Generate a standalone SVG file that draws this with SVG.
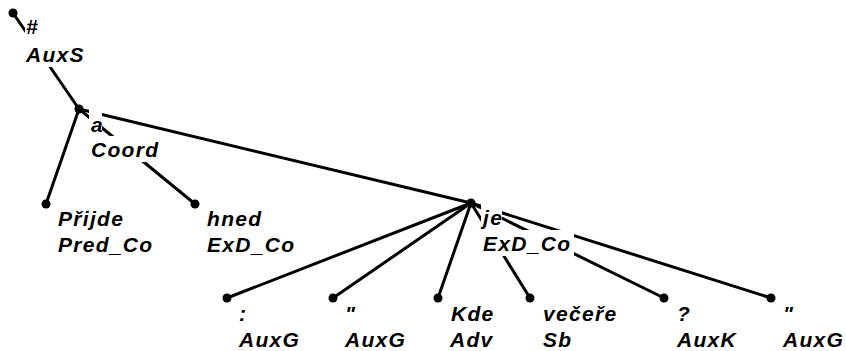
<svg xmlns="http://www.w3.org/2000/svg" width="846" height="351" viewBox="0 0 846 351">
<style>
.e{stroke:#000;stroke-width:3;fill:none;stroke-linecap:round}
.d{fill:#000}
.bg{fill:#fff}
text{font-family:"Liberation Sans",Arial,sans-serif;font-weight:bold;font-style:italic;font-size:21px;letter-spacing:1.3px;fill:#000}
</style>
<rect width="846" height="351" fill="#fff"/>
<g id="connectors">
<line class="e" x1="13" y1="13" x2="79" y2="109"/>
<line class="e" x1="79" y1="109" x2="46" y2="204"/>
<line class="e" x1="79" y1="109" x2="195" y2="204"/>
<line class="e" x1="79" y1="109" x2="471" y2="203"/>
<line class="e" x1="471" y1="203" x2="227" y2="298"/>
<line class="e" x1="471" y1="203" x2="333" y2="298"/>
<line class="e" x1="471" y1="203" x2="438" y2="298"/>
<line class="e" x1="471" y1="203" x2="530" y2="298"/>
<line class="e" x1="471" y1="203" x2="664" y2="298"/>
<line class="e" x1="471" y1="203" x2="771" y2="298"/>
</g>
<g id="n-root">
<circle class="d" cx="13" cy="13" r="4.5"/>
<rect class="bg" x="25" y="13" width="15" height="28"/>
<rect class="bg" x="25" y="41" width="62" height="26"/>
<text x="26" y="34">#</text>
<text x="26" y="62">AuxS</text>
</g>
<g id="n-a">
<circle class="d" cx="79" cy="109" r="4.5"/>
<rect class="bg" x="89" y="110" width="13" height="26"/>
<rect class="bg" x="89" y="136" width="73" height="26"/>
<text x="91" y="132">a</text>
<text x="91" y="157">Coord</text>
</g>
<g id="n-prijde">
<circle class="d" cx="46" cy="204" r="4.5"/>
<text x="58" y="226">Přijde</text>
<text x="58" y="252">Pred_Co</text>
</g>
<g id="n-hned">
<circle class="d" cx="195" cy="204" r="4.5"/>
<text x="207" y="226">hned</text>
<text x="207" y="252">ExD_Co</text>
</g>
<g id="n-je">
<circle class="d" cx="471" cy="203" r="4.5"/>
<rect class="bg" x="481" y="204" width="21" height="26"/>
<rect class="bg" x="481" y="230" width="93" height="26"/>
<text x="483" y="225">je</text>
<text x="483" y="251">ExD_Co</text>
</g>
<g id="n-colon">
<circle class="d" cx="227" cy="298" r="4.5"/>
<text x="239" y="321">:</text>
<text x="239" y="347">AuxG</text>
</g>
<g id="n-quote1">
<circle class="d" cx="333" cy="298" r="4.5"/>
<text x="345" y="321">"</text>
<text x="345" y="347">AuxG</text>
</g>
<g id="n-kde">
<circle class="d" cx="438" cy="298" r="4.5"/>
<text x="451" y="321">Kde</text>
<text x="450" y="347">Adv</text>
</g>
<g id="n-vecere">
<circle class="d" cx="530" cy="298" r="4.5"/>
<text x="543" y="321">večeře</text>
<text x="543" y="347">Sb</text>
</g>
<g id="n-q">
<circle class="d" cx="664" cy="298" r="4.5"/>
<text x="677" y="321">?</text>
<text x="677" y="347">AuxK</text>
</g>
<g id="n-quote2">
<circle class="d" cx="771" cy="298" r="4.5"/>
<text x="783" y="321">"</text>
<text x="783" y="347">AuxG</text>
</g>
</svg>
